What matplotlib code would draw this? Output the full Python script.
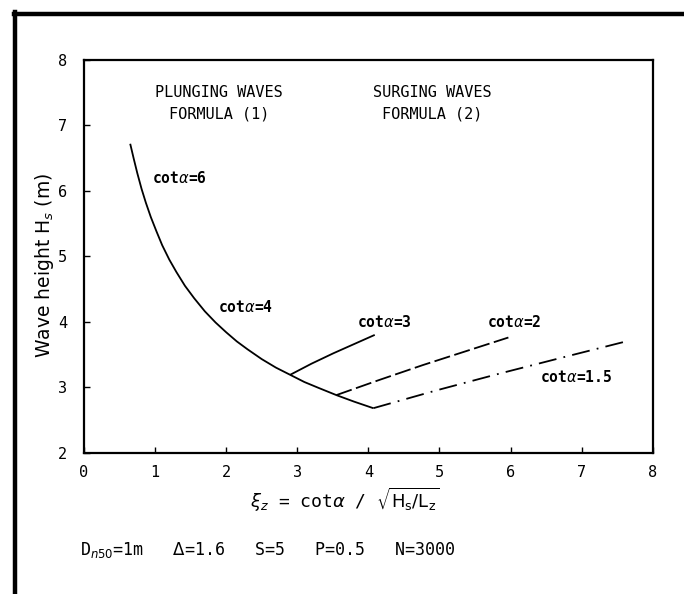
import matplotlib
matplotlib.use("Agg")
import matplotlib.pyplot as plt
from matplotlib.lines import Line2D

# Plunging waves curve (formula 1)
plunge_x = [0.65, 0.70, 0.75, 0.81, 0.87, 0.94, 1.02, 1.10, 1.20, 1.30, 1.42,
            1.55, 1.70, 1.85, 2.00, 2.15, 2.30, 2.50, 2.70, 2.90, 3.10, 3.30,
            3.55, 3.80, 4.07]
plunge_y = [6.72, 6.49, 6.27, 6.03, 5.82, 5.60, 5.38, 5.17, 4.95, 4.76, 4.55,
            4.36, 4.16, 3.99, 3.84, 3.70, 3.58, 3.43, 3.30, 3.19, 3.08, 2.99,
            2.88, 2.78, 2.68]

# Surging waves branches (formula 2)
surge3_x = [2.90, 3.20, 3.51, 3.80, 4.09]
surge3_y = [3.19, 3.36, 3.52, 3.66, 3.80]
surge2_x = [3.55, 4.15, 4.77, 5.37, 5.97]
surge2_y = [2.88, 3.11, 3.34, 3.55, 3.76]
surge15_x = [4.07, 4.95, 5.85, 6.75, 7.66]
surge15_y = [2.68, 2.95, 3.21, 3.46, 3.71]

xticks = [0, 1, 2, 3, 4, 5, 6, 7, 8]
yticks = [2, 3, 4, 5, 6, 7, 8]

W, H = 684, 594
fig = plt.figure(figsize=(W / 100, H / 100), dpi=100)
mono = "DejaVu Sans Mono"

ax = fig.add_axes([84 / W, 1 - 452.7 / H, (652.7 - 84) / W, (452.7 - 60) / H])
ax.set_xlim(0, 8)
ax.set_ylim(2, 8)

lw = 1.3
ax.plot(plunge_x, plunge_y, color="black", lw=lw, solid_capstyle="butt",
        solid_joinstyle="round")
ax.plot(surge3_x, surge3_y, color="black", lw=lw, solid_capstyle="butt")
ax.plot(surge2_x, surge2_y, color="black", lw=lw, linestyle=(0, (9, 2.5)))
ax.plot(surge15_x, surge15_y, color="black", lw=lw, linestyle=(0, (10, 4, 1, 4)))

for s in ax.spines.values():
    s.set_linewidth(1.6)
ax.set_xticks(xticks)
ax.set_yticks(yticks)
ax.tick_params(direction="in", length=4, width=1.0, labelsize=11)
ax.tick_params(axis="y", pad=12)
ax.tick_params(axis="x", pad=9)
for lab in ax.get_xticklabels() + ax.get_yticklabels():
    lab.set_family(mono)

# annotations
tkw = dict(family=mono, fontsize=11, color="black")
ax.text(1.9, 7.5, "PLUNGING WAVES", ha="center", va="center", **tkw)
ax.text(1.9, 7.18, "FORMULA (1)", ha="center", va="center", **tkw)
ax.text(4.9, 7.5, "SURGING WAVES", ha="center", va="center", **tkw)
ax.text(4.9, 7.18, "FORMULA (2)", ha="center", va="center", **tkw)

lkw = dict(family=mono, fontsize=10.5, color="black", ha="left", va="center",
           fontweight="semibold")
ax.text(0.96, 6.20, r"cot$\alpha$=6", **lkw)
ax.text(1.88, 4.22, r"cot$\alpha$=4", **lkw)
ax.text(3.84, 3.99, r"cot$\alpha$=3", **lkw)
ax.text(5.67, 3.99, r"cot$\alpha$=2", **lkw)
ax.text(6.42, 3.15, r"cot$\alpha$=1.5", **lkw)

fig.text(45 / W, 1 - 265 / H, r"Wave height H$_s$ (m)", rotation=90,
         ha="center", va="center", fontsize=13.5)
fig.text(345 / W, 1 - 500 / H,
         r"$\xi_z$ = cot$\alpha$ / $\sqrt{\mathrm{H_s/L_z}}$",
         ha="center", va="center", fontsize=13, family=mono)
fig.text(80 / W, 1 - 550 / H,
         r"D$_{n50}$=1m   $\Delta$=1.6   S=5   P=0.5   N=3000",
         ha="left", va="center", fontsize=12, family=mono)

# scan frame (top and left black border)
fig.add_artist(Line2D([15 / W, 15 / W], [0, 1 - 12 / H], color="black", lw=3.2,
                      transform=fig.transFigure))
fig.add_artist(Line2D([13.5 / W, 1], [1 - 14 / H, 1 - 14 / H], color="black", lw=3.2,
                      transform=fig.transFigure))

fig.savefig("out.png", dpi=100)
